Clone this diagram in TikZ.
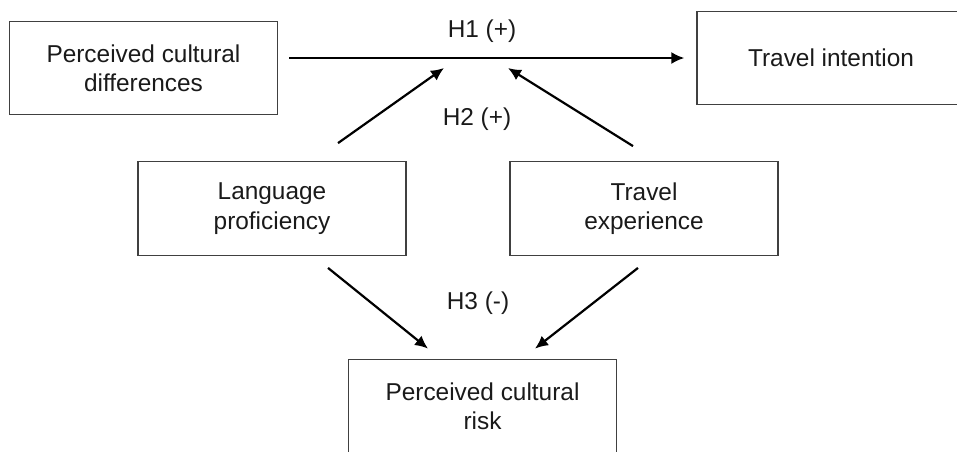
\documentclass[tikz,border=0pt]{standalone}
\usepackage{fontspec}
\setmainfont{Liberation Sans}
\usetikzlibrary{arrows.meta}
\definecolor{boxgray}{HTML}{404040}
\definecolor{txtgray}{HTML}{1A1A1A}

\tikzset{
  varbox/.style={draw=boxgray,line width=0.65pt,minimum width=134pt,minimum height=46.75pt,
    inner sep=0pt,align=center,text=txtgray,font=\fontsize{12.2}{14.7}\selectfont},
  hyp/.style={-{Latex[length=6.5pt,width=6pt]},line width=1.1pt,black},
  hyplabel/.style={text=txtgray,font=\fontsize{12.2}{14.7}\selectfont}
}

\begin{document}
\begin{tikzpicture}[x=0.5pt,y=-0.5pt]
    \clip (0,0) rectangle (957,451);
    % --- variables ---
    \node[varbox] (diff) at (143.5,68) {Perceived cultural\\differences};
    \node[varbox] (intent) at (831,58) {Travel intention};
    \node[varbox] (lang) at (272,208.5) {Language\\proficiency};
    \node[varbox] (exper) at (644,208.5) {Travel\\experience};
    \node[varbox] (risk) at (482.5,406) {Perceived cultural\\risk};
    % --- H1: efecto directo ---
    \draw[hyp,shorten <=5.5pt,shorten >=6pt] (diff.east |- intent.west) -- (intent.west);
    \node[hyplabel] (h1) at (482,31) {H1 (+)};
    % --- H2: moderacion sobre H1 ---
    \coordinate (langtop) at ([xshift=33pt,yshift=9pt]lang.north);
    \coordinate (expertop) at ([xshift=-5.5pt,yshift=7.5pt]exper.north);
    \coordinate (h2left) at (444,68);
    \coordinate (h2right) at (508,68);
    \draw[hyp] (langtop) -- (h2left);
    \draw[hyp] (expertop) -- (h2right);
    \node[hyplabel] (h2) at (477,119) {H2 (+)};
    % --- H3: efecto sobre riesgo ---
    \coordinate (langbot) at ([xshift=28pt,yshift=-6pt]lang.south);
    \coordinate (experbot) at ([xshift=-3pt,yshift=-6pt]exper.south);
    \coordinate (riskleft) at ([xshift=-27.25pt,yshift=5pt]risk.north);
    \coordinate (riskright) at ([xshift=26.25pt,yshift=5pt]risk.north);
    \draw[hyp] (langbot) -- (riskleft);
    \draw[hyp] (experbot) -- (riskright);
    \node[hyplabel] (h3) at (478,303) {H3 (-)};
\end{tikzpicture}
\end{document}
